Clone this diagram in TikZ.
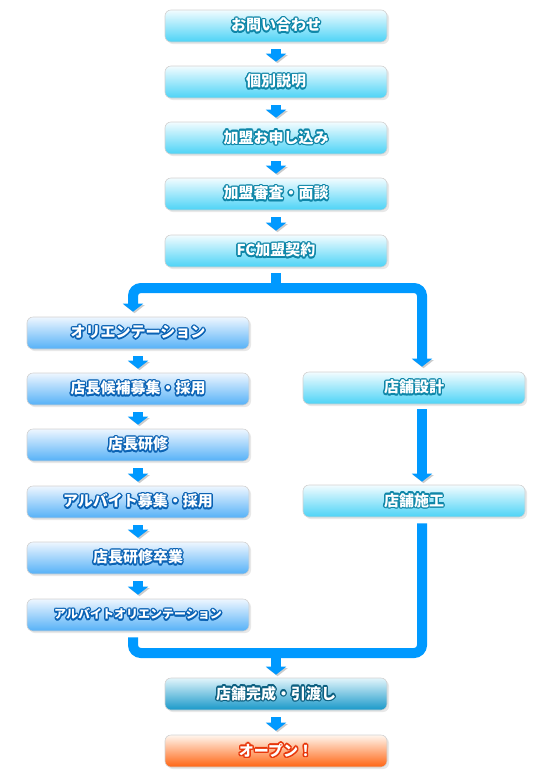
\documentclass[tikz,border=0pt]{standalone}
\usepackage{fontspec}
\newfontfamily\jpfont{Noto Sans CJK JP}
\usepackage[copies]{contour}
\contourlength{1.4pt}
\contournumber{12}
\usetikzlibrary{
    arrows.meta,
    shadows
}
\definecolor{flowblue}{HTML}{0099FF}
\definecolor{cyantop}{HTML}{F2FCFF}
\definecolor{cyanmid}{HTML}{A6EAFB}
\definecolor{cyanbot}{HTML}{4CD3F6}
\definecolor{cyanline}{HTML}{0E86A8}
\definecolor{bluetop}{HTML}{EEF6FF}
\definecolor{bluemid}{HTML}{A8D6FC}
\definecolor{bluebot}{HTML}{55B1F7}
\definecolor{blueline}{HTML}{0A62B4}
\definecolor{donetop}{HTML}{E2F5FB}
\definecolor{donemid}{HTML}{7CC9E4}
\definecolor{donebot}{HTML}{1898C9}
\definecolor{doneline}{HTML}{0B5F80}
\definecolor{opentop}{HTML}{FFF6EE}
\definecolor{openmid}{HTML}{FFB580}
\definecolor{openbot}{HTML}{FF6412}
\definecolor{openline}{HTML}{E8360A}
\tikzset{
    box/.style={
        rounded corners=6pt,
        draw=black!18,
        line width=0.6pt,
        minimum width=222pt,
        minimum height=32pt,
        inner sep=0pt,
        text=white,
        font=\jpfont\bfseries\fontsize{15}{15}\selectfont,
        drop shadow={shadow xshift=2pt, shadow yshift=-2pt, opacity=0.18}
    },
    cyanbox/.style={box, top color=cyantop, middle color=cyanmid, bottom color=cyanbot},
    bluebox/.style={box, top color=bluetop, middle color=bluemid, bottom color=bluebot},
    donebox/.style={box, top color=donetop, middle color=donemid, bottom color=donebot},
    openbox/.style={box, top color=opentop, middle color=openmid, bottom color=openbot},
    flowline/.style={
        line width=10pt,
        draw=flowblue,
        rounded corners=8pt,
        preaction={draw=black!20, transform canvas={shift={(1.5pt,-1.5pt)}}}
    },
    flow/.style={flowline, -{Triangle[width=20pt,length=8pt]}},
    gostep/.style={flow, shorten <=7pt, shorten >=4pt}
}

\begin{document}
\begin{tikzpicture}[x=1pt, y=-1pt]

    \useasboundingbox (0,0) rectangle (554,777);

    % Tronco comun
    \node[cyanbox] (ask)    at (276,26)  {\contour{cyanline}{お問い合わせ}};
    \node[cyanbox] (info)   at (276,82)  {\contour{cyanline}{個別説明}};
    \node[cyanbox] (apply)  at (276,138) {\contour{cyanline}{加盟お申し込み}};
    \node[cyanbox] (review) at (276,194) {\contour{cyanline}{加盟審査・面談}};
    \node[cyanbox] (fc)     at (276,251) {\contour{cyanline}{FC加盟契約}};

    % Rama del personal
    \node[bluebox] (orient)  at (138,333) {\contour{blueline}{オリエンテーション}};
    \node[bluebox] (recruit) at (138,389) {\contour{blueline}{店長候補募集・採用}};
    \node[bluebox] (train)   at (138,445) {\contour{blueline}{店長研修}};
    \node[bluebox] (parttim) at (138,502) {\contour{blueline}{アルバイト募集・採用}};
    \node[bluebox] (grad)    at (138,558) {\contour{blueline}{店長研修卒業}};
    \node[bluebox] (aorient) at (138,615)
        {\fontsize{12}{12}\selectfont\contour{blueline}{アルバイトオリエンテーション}};

    % Rama del local
    \node[cyanbox] (design) at (414,388) {\contour{cyanline}{店舗設計}};
    \node[cyanbox] (build)  at (414,501) {\contour{cyanline}{店舗施工}};

    % Final
    \node[donebox] (done) at (276,694) {\contour{doneline}{店舗完成・引渡し}};
    \node[openbox] (open) at (276,751) {\contour{openline}{オープン！}};

    \coordinate (split) at (276,288);
    \coordinate (merge) at (276,653);

    % Flechas
    \draw[gostep] (ask) -- (info);
    \draw[gostep] (info) -- (apply);
    \draw[gostep] (apply) -- (review);
    \draw[gostep] (review) -- (fc);

    \draw[flowline, shorten <=6pt] (fc) -- (split);
    \draw[flow, shorten >=5pt] (split) -| ([xshift=-5pt]orient.north);
    \draw[flow, shorten >=5pt] (split) -| ([xshift=8pt]design.north);

    \draw[gostep] (orient) -- (recruit);
    \draw[gostep] (recruit) -- (train);
    \draw[gostep] (train) -- (parttim);
    \draw[gostep] (parttim) -- (grad);
    \draw[gostep] (grad) -- (aorient);

    \draw[flow, shorten <=5pt, shorten >=3pt]
        ([xshift=8pt]design.south) -- ([xshift=8pt]build.north);

    \draw[flowline, shorten <=6pt, shorten >=6pt]
        ([xshift=-5pt]aorient.south) |- (merge) -| ([xshift=8pt]build.south);
    \draw[flow, shorten >=3pt] (merge) -- (done);

    \draw[gostep] (done) -- (open);

\end{tikzpicture}
\end{document}
